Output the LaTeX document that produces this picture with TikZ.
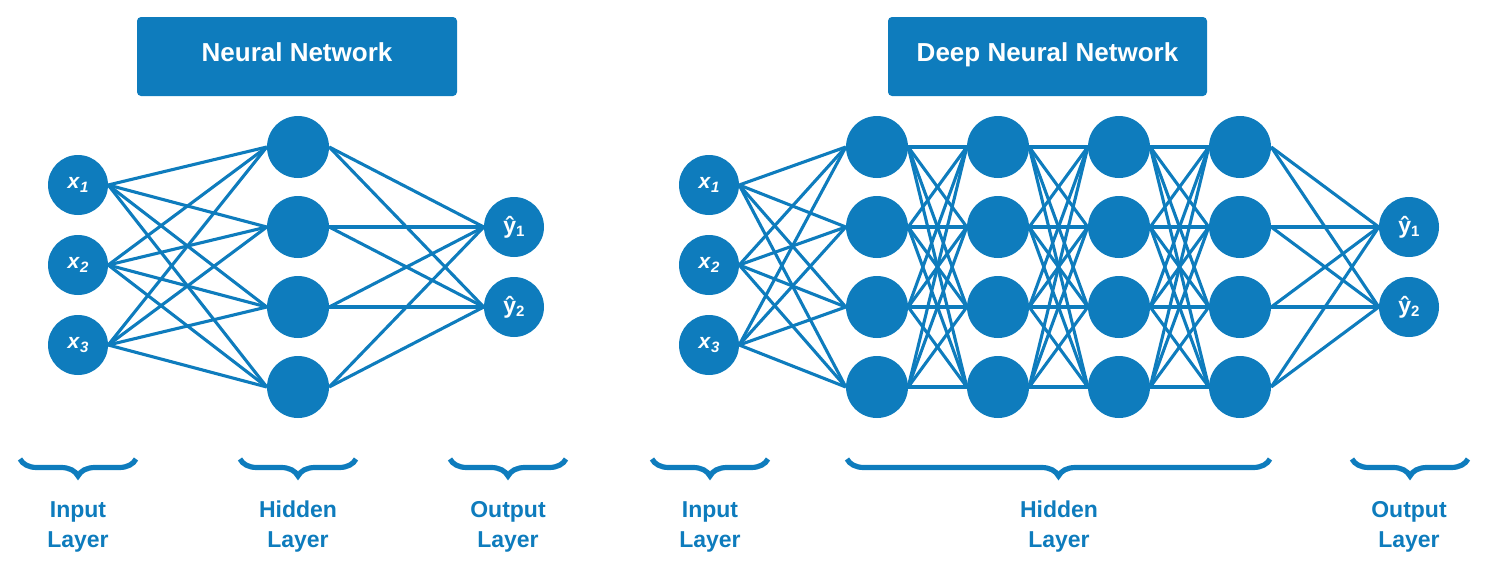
\documentclass[tikz,border=0pt]{standalone}
\usepackage{fontspec}
\setmainfont{Liberation Sans}
\usetikzlibrary{decorations.pathreplacing,backgrounds}
\definecolor{nnblue}{RGB}{14,124,189}
\begin{document}
\begin{tikzpicture}[x=1pt,y=-1pt,
 neuron/.style={circle,fill=nnblue,minimum size=60pt,inner sep=0pt,text=white,font=\bfseries\fontsize{21}{21}\selectfont},
 bigneuron/.style={neuron,minimum size=62pt},
 link/.style={draw=nnblue,line width=3.1pt},
 titlebox/.style={fill=nnblue,rounded corners=4pt,minimum height=79pt,inner sep=0pt,text depth=8pt,text=white,font=\bfseries\fontsize{26}{26}\selectfont},
 bracestyle/.style={draw=nnblue,line width=5.2pt,decorate,decoration={brace,mirror,amplitude=17pt}},
 layerlabel/.style={text=nnblue,align=center,font=\bfseries\fontsize{23}{30}\selectfont}
]
\useasboundingbox (0,0) rectangle (1492,568);
\newcommand{\xin}[1]{\textbf{\textit{x}}\raisebox{-0.42ex}{\fontsize{15}{15}\selectfont\textbf{\textit{#1}}}}
\newcommand{\yout}[1]{{\fontsize{23}{23}\selectfont ŷ}\raisebox{-0.3ex}{\fontsize{15}{15}\selectfont #1}}

% ---------- titles ----------
\node[titlebox,minimum width=320pt] (t1) at (297,56.5) {Neural Network};
\node[titlebox,minimum width=319pt] (t2) at (1047.5,56.5) {Deep Neural Network};

% ---------- left network ----------
\node[neuron] (Li1) at (78,185) {\xin{1}};
\node[neuron] (Li2) at (78,265) {\xin{2}};
\node[neuron] (Li3) at (78,345) {\xin{3}};
\foreach \j/\y in {1/147,2/227,3/307,4/387}
  \node[bigneuron] (Lh\j) at (298,\y) {};
\node[neuron] (Lo1) at (514,227) {\yout{1}};
\node[neuron] (Lo2) at (514,307) {\yout{2}};

% ---------- right network ----------
\node[neuron] (Ri1) at (709,185) {\xin{1}};
\node[neuron] (Ri2) at (709,265) {\xin{2}};
\node[neuron] (Ri3) at (709,345) {\xin{3}};
\foreach \l/\x in {1/877,2/998,3/1119,4/1240}
  \foreach \j/\y in {1/147,2/227,3/307,4/387}
    \node[bigneuron] (R\l h\j) at (\x,\y) {};
\node[neuron] (Ro1) at (1409,227) {\yout{1}};
\node[neuron] (Ro2) at (1409,307) {\yout{2}};

% ---------- connections ----------
\begin{scope}[on background layer]
\foreach \i in {1,2,3}
  \foreach \j in {1,...,4}
    \draw[link] (Li\i.east) -- (Lh\j.west);
\foreach \j in {1,...,4}
  \foreach \k in {1,2}
    \draw[link] (Lh\j.east) -- (Lo\k.west);
\foreach \i in {1,2,3}
  \foreach \j in {1,...,4}
    \draw[link] (Ri\i.east) -- (R1h\j.west);
\foreach \l/\m in {1/2,2/3,3/4}
  \foreach \i in {1,...,4}
    \foreach \j in {1,...,4}
      \draw[link] (R\l h\i.east) -- (R\m h\j.west);
\foreach \j in {1,...,4}
  \foreach \k in {1,2}
    \draw[link] (R4h\j.east) -- (Ro\k.west);
\end{scope}

% ---------- braces ----------
\coordinate (b1a) at (20,459);   \coordinate (b1b) at (136,459);
\coordinate (b2a) at (240,459);  \coordinate (b2b) at (356,459);
\coordinate (b3a) at (450,459);  \coordinate (b3b) at (566,459);
\coordinate (b4a) at (652,459);  \coordinate (b4b) at (768,459);
\coordinate (b5a) at (847,459);  \coordinate (b5b) at (1270,459);
\coordinate (b6a) at (1352,459); \coordinate (b6b) at (1468,459);
\draw[bracestyle] (b1a) -- (b1b);
\draw[bracestyle] (b2a) -- (b2b);
\draw[bracestyle] (b3a) -- (b3b);
\draw[bracestyle] (b4a) -- (b4b);
\draw[bracestyle] (b5a) -- (b5b);
\draw[bracestyle] (b6a) -- (b6b);

% ---------- labels ----------
\node[layerlabel] (l1) at (78,527) {Input\\Layer};
\node[layerlabel] (l2) at (298,527) {Hidden\\Layer};
\node[layerlabel] (l3) at (508,527) {Output\\Layer};
\node[layerlabel] (l4) at (710,527) {Input\\Layer};
\node[layerlabel] (l5) at (1059,527) {Hidden\\Layer};
\node[layerlabel] (l6) at (1409,527) {Output\\Layer};
\end{tikzpicture}
\end{document}
